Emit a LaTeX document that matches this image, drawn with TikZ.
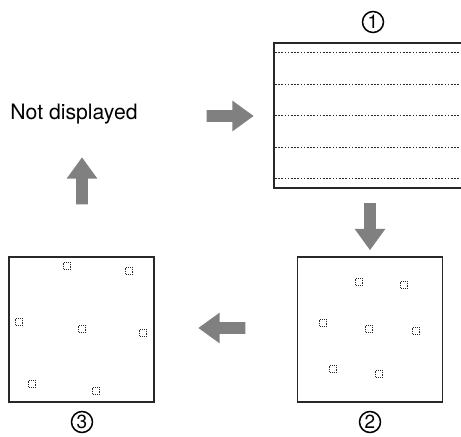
\documentclass[tikz,border=0pt]{standalone}
\usepackage{fontspec}
\setmainfont{TeX Gyre Heros}
\usetikzlibrary{shapes.arrows}
\definecolor{arrowgray}{RGB}{128,128,128}
\definecolor{framegray}{RGB}{40,40,40}
\begin{document}
\begin{tikzpicture}[x=0.5pt,y=-0.5pt,
        screen/.style={draw=framegray,line width=0.75pt,minimum width=72.5pt,minimum height=72.5pt,inner sep=0pt},
        dot/.style={draw=framegray,line width=0.3pt,dash pattern=on 0.6pt off 0.5pt,minimum size=3.5pt,inner sep=0pt},
        scanline/.style={framegray,line width=0.5pt,dash pattern=on 0.8pt off 0.8pt},
        stepno/.style={circle,draw,line width=0.75pt,minimum size=10.5pt,inner sep=0pt,font=\fontsize{9.5}{10}\selectfont},
        flow/.style={single arrow,fill=arrowgray,draw=none,minimum height=23.5pt,minimum width=15pt,single arrow head extend=4.75pt,single arrow tip angle=72,inner sep=2.75pt}]
    \useasboundingbox (0,0) rectangle (461,437);

    \node[anchor=base west,inner sep=0pt,font=\fontsize{10.6}{12}\selectfont] (off) at (10,120) {Not displayed};

    \coordinate (ftl) at (274,43);
    \coordinate (fbl) at (274,188);
    \draw[framegray,line width=0.8pt] (461,43) -- (ftl) -- (fbl) -- (461,188);
    \foreach \y in {53,85,116,148,179}
        \draw[scanline] (275,\y) -- (461,\y);
    \node[stepno] (one) at (373,22) {1};

    \node[screen] (flash) at (370,329.5) {};
    \node[screen] (held) at (81.5,329.5) {};
    \node[stepno] (two) at (370,422) {2};
    \node[stepno] (three) at (82,422) {3};

    \foreach \x/\y in {359/282,404/285,323/323,369/329,416/331,333/369,379/374}
        \node[dot] at (\x,\y) {};
    \foreach \x/\y in {67/266,129/271,19/322,82/329,143/333,32/384,96/391}
        \node[dot] at (\x,\y) {};

    \node[flow] (toone) at (226,116) {};
    \node[flow,rotate=-90] (totwo) at (370,222.5) {};
    \node[flow,rotate=180] (tothree) at (226,328) {};
    \node[flow,rotate=90] (tooff) at (82,185) {};
\end{tikzpicture}
\end{document}
